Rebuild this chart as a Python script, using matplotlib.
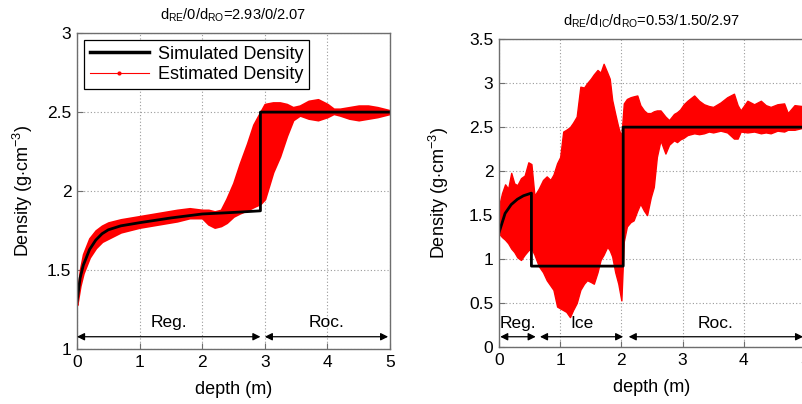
import matplotlib
matplotlib.use("Agg")
import matplotlib.pyplot as plt
from matplotlib.lines import Line2D

plt.rcParams["font.family"] = ["Liberation Sans", "DejaVu Sans"]
plt.rcParams["mathtext.fontset"] = "custom"
plt.rcParams["mathtext.rm"] = "Liberation Sans"
plt.rcParams["mathtext.it"] = "Liberation Sans:italic"

RED = "#FF0000"
SPINE = "#6E6E6E"

# ---- left panel: d_RE/0/d_RO = 2.93/0/2.07
sim_depth_l = [0, 0.05, 0.1, 0.2, 0.3, 0.4, 0.5, 0.7, 1.0, 1.5, 2.0, 2.5, 2.93, 2.93, 5.0]
sim_dens_l = [1.30, 1.45, 1.53, 1.63, 1.69, 1.73, 1.755, 1.78, 1.80, 1.83, 1.855, 1.865, 1.875, 2.5, 2.5]

est_depth_l = [0, 0.05, 0.1, 0.2, 0.3, 0.4, 0.5, 0.7, 1.0, 1.3,
               1.6, 1.8, 2.0, 2.1, 2.2, 2.3, 2.39, 2.5, 2.6, 2.72,
               2.82, 2.93, 3.0, 3.13, 3.24, 3.35, 3.45, 3.56, 3.7, 3.85,
               4.0, 4.1, 4.2, 4.35, 4.5, 4.65, 4.8, 4.9, 5.0]
est_upper_l = [1.32, 1.50, 1.60, 1.70, 1.75, 1.78, 1.80, 1.82, 1.84, 1.86,
               1.88, 1.89, 1.88, 1.88, 1.87, 1.88, 1.95, 2.05, 2.17, 2.30,
               2.42, 2.50, 2.55, 2.56, 2.56, 2.55, 2.53, 2.54, 2.57, 2.58,
               2.55, 2.52, 2.52, 2.53, 2.54, 2.54, 2.53, 2.52, 2.51]
est_lower_l = [1.28, 1.40, 1.48, 1.58, 1.64, 1.68, 1.70, 1.74, 1.77, 1.79,
               1.81, 1.83, 1.83, 1.79, 1.77, 1.78, 1.80, 1.84, 1.86, 1.88,
               1.90, 1.92, 1.95, 2.12, 2.22, 2.35, 2.45, 2.48, 2.46, 2.45,
               2.47, 2.49, 2.48, 2.46, 2.45, 2.46, 2.47, 2.48, 2.49]

# ---- right panel: d_RE/d_IC/d_RO = 0.53/1.50/2.97
sim_depth_r = [0, 0.1, 0.2, 0.3, 0.4, 0.53, 0.53, 2.03, 2.03, 5.0]
sim_dens_r = [1.30, 1.52, 1.62, 1.68, 1.72, 1.75, 0.92, 0.92, 2.5, 2.5]

est_depth_r = [0.00, 0.05, 0.10, 0.15, 0.20, 0.25, 0.30, 0.36, 0.42, 0.48,
               0.53, 0.58, 0.65, 0.72, 0.78, 0.84, 0.89, 0.95, 1.00, 1.05,
               1.10, 1.16, 1.21, 1.27, 1.33, 1.39, 1.44, 1.50, 1.55, 1.61,
               1.66, 1.71, 1.77, 1.81, 1.85, 1.90, 1.95, 2.00, 2.04, 2.09,
               2.15, 2.20, 2.26, 2.31, 2.37, 2.42, 2.48, 2.53, 2.58, 2.64,
               2.72, 2.78, 2.86, 2.91, 2.96, 3.02, 3.08, 3.19, 3.27, 3.35,
               3.43, 3.50, 3.62, 3.73, 3.84, 3.90, 3.95, 4.06, 4.17, 4.28,
               4.36, 4.44, 4.55, 4.66, 4.72, 4.83, 4.95, 5.00]
est_upper_r = [1.60, 1.75, 1.85, 1.80, 1.98, 1.86, 1.84, 1.92, 1.95, 2.10,
               2.08, 1.72, 1.80, 1.90, 1.94, 1.90, 1.96, 2.09, 2.16, 2.45,
               2.47, 2.50, 2.55, 2.62, 2.96, 2.95, 3.00, 3.05, 3.10, 3.15,
               3.12, 3.22, 3.12, 3.05, 2.81, 2.65, 2.50, 2.39, 2.77, 2.82,
               2.84, 2.85, 2.86, 2.75, 2.69, 2.66, 2.66, 2.68, 2.69, 2.69,
               2.62, 2.58, 2.65, 2.67, 2.70, 2.76, 2.80, 2.86, 2.80, 2.76,
               2.74, 2.73, 2.78, 2.84, 2.88, 2.75, 2.69, 2.80, 2.76, 2.80,
               2.75, 2.73, 2.76, 2.77, 2.66, 2.75, 2.74, 2.74]
est_lower_r = [1.29, 1.25, 1.22, 1.18, 1.12, 1.08, 1.02, 0.99, 1.05, 1.10,
               1.12, 1.05, 0.92, 0.85, 0.76, 0.70, 0.65, 0.46, 0.44, 0.42,
               0.40, 0.34, 0.42, 0.50, 0.65, 0.72, 0.76, 0.74, 0.72, 0.85,
               0.99, 1.05, 1.14, 1.10, 1.03, 0.85, 0.72, 0.53, 1.20, 1.37,
               1.42, 1.44, 1.55, 1.63, 1.55, 1.50, 1.70, 1.82, 2.16, 2.35,
               2.20, 2.30, 2.35, 2.33, 2.36, 2.38, 2.41, 2.43, 2.42, 2.43,
               2.45, 2.44, 2.46, 2.44, 2.37, 2.37, 2.45, 2.44, 2.45, 2.43,
               2.44, 2.43, 2.46, 2.45, 2.47, 2.47, 2.49, 2.49]

zones_l = [("Reg.", 0.0, 2.93), ("Roc.", 3.0, 4.97)]
zones_r = [("Reg.", 0.02, 0.6), ("Ice", 0.67, 2.03), ("Roc.", 2.12, 4.97)]


def style_axes(ax, ylim, yticks, ylabelpad):
    ax.set_axisbelow(True)
    ax.set_xlim(0, 5)
    ax.set_ylim(*ylim)
    ax.set_xticks(range(6))
    ax.set_yticks(yticks)
    ax.set_yticklabels([f"{t:g}" for t in yticks])
    ax.grid(True, linestyle=(0, (1, 2)), color="#9A9A9A", lw=0.8)
    ax.tick_params(direction="in", labelsize=12.5, length=4, color=SPINE, pad=4)
    for s in ax.spines.values():
        s.set_color(SPINE)
        s.set_linewidth(1.0)
    ax.set_xlabel("depth (m)", fontsize=13, labelpad=8)
    ax.set_ylabel(r"Density (g$\cdot$cm$^{-3}$)", fontsize=13, labelpad=ylabelpad)


def draw_zones(ax, zones, y_arrow, y_text):
    for name, a, b in zones:
        ax.annotate("", xy=(a, y_arrow), xytext=(b, y_arrow),
                    arrowprops=dict(arrowstyle="<|-|>", color="black", lw=0.9,
                                    mutation_scale=11, shrinkA=0, shrinkB=0))
        ax.text((a + b) / 2, y_text, name, ha="center", va="center", fontsize=12.5)


fig = plt.figure(figsize=(8.03, 4.04), dpi=100)
ax1 = fig.add_axes([0.0959, 0.136, 0.3898, 0.782])
ax2 = fig.add_axes([0.6214, 0.141, 0.381, 0.762])

# left
ax1.fill_between(est_depth_l, est_lower_l, est_upper_l, color=RED, lw=1.5, edgecolor=RED)
ax1.plot(sim_depth_l, sim_dens_l, color="black", lw=2)
style_axes(ax1, (1, 3), [1, 1.5, 2, 2.5, 3], 9)
draw_zones(ax1, zones_l, 1.078, 1.17)
ax1.set_title(r"d$_{\rm RE}$/0/d$_{\rm RO}$=2.93/0/2.07", fontsize=10.5, pad=10)
handles = [Line2D([0], [0], color="black", lw=2.5),
           Line2D([0], [0], color=RED, lw=0.8, marker=".", markersize=4)]
leg = ax1.legend(handles, ["Simulated Density", "Estimated Density"], loc="upper left",
                 fontsize=13, fancybox=False, framealpha=1, borderaxespad=0.4,
                 handlelength=3.3, borderpad=0.3, labelspacing=0.2, handletextpad=0.5)
leg.get_frame().set_edgecolor("black")
leg.get_frame().set_linewidth(0.9)

# right
ax2.fill_between(est_depth_r, est_lower_r, est_upper_r, color=RED, lw=1.0, edgecolor=RED)
ax2.plot(sim_depth_r, sim_dens_r, color="black", lw=2)
style_axes(ax2, (0, 3.5), [0, 0.5, 1, 1.5, 2, 2.5, 3, 3.5], 13)
draw_zones(ax2, zones_r, 0.117, 0.27)
ax2.set_title(r"d$_{\rm RE}$/d$_{\rm IC}$/d$_{\rm RO}$=0.53/1.50/2.97", fontsize=10.5, pad=10)

fig.savefig("out.png", dpi=100)
